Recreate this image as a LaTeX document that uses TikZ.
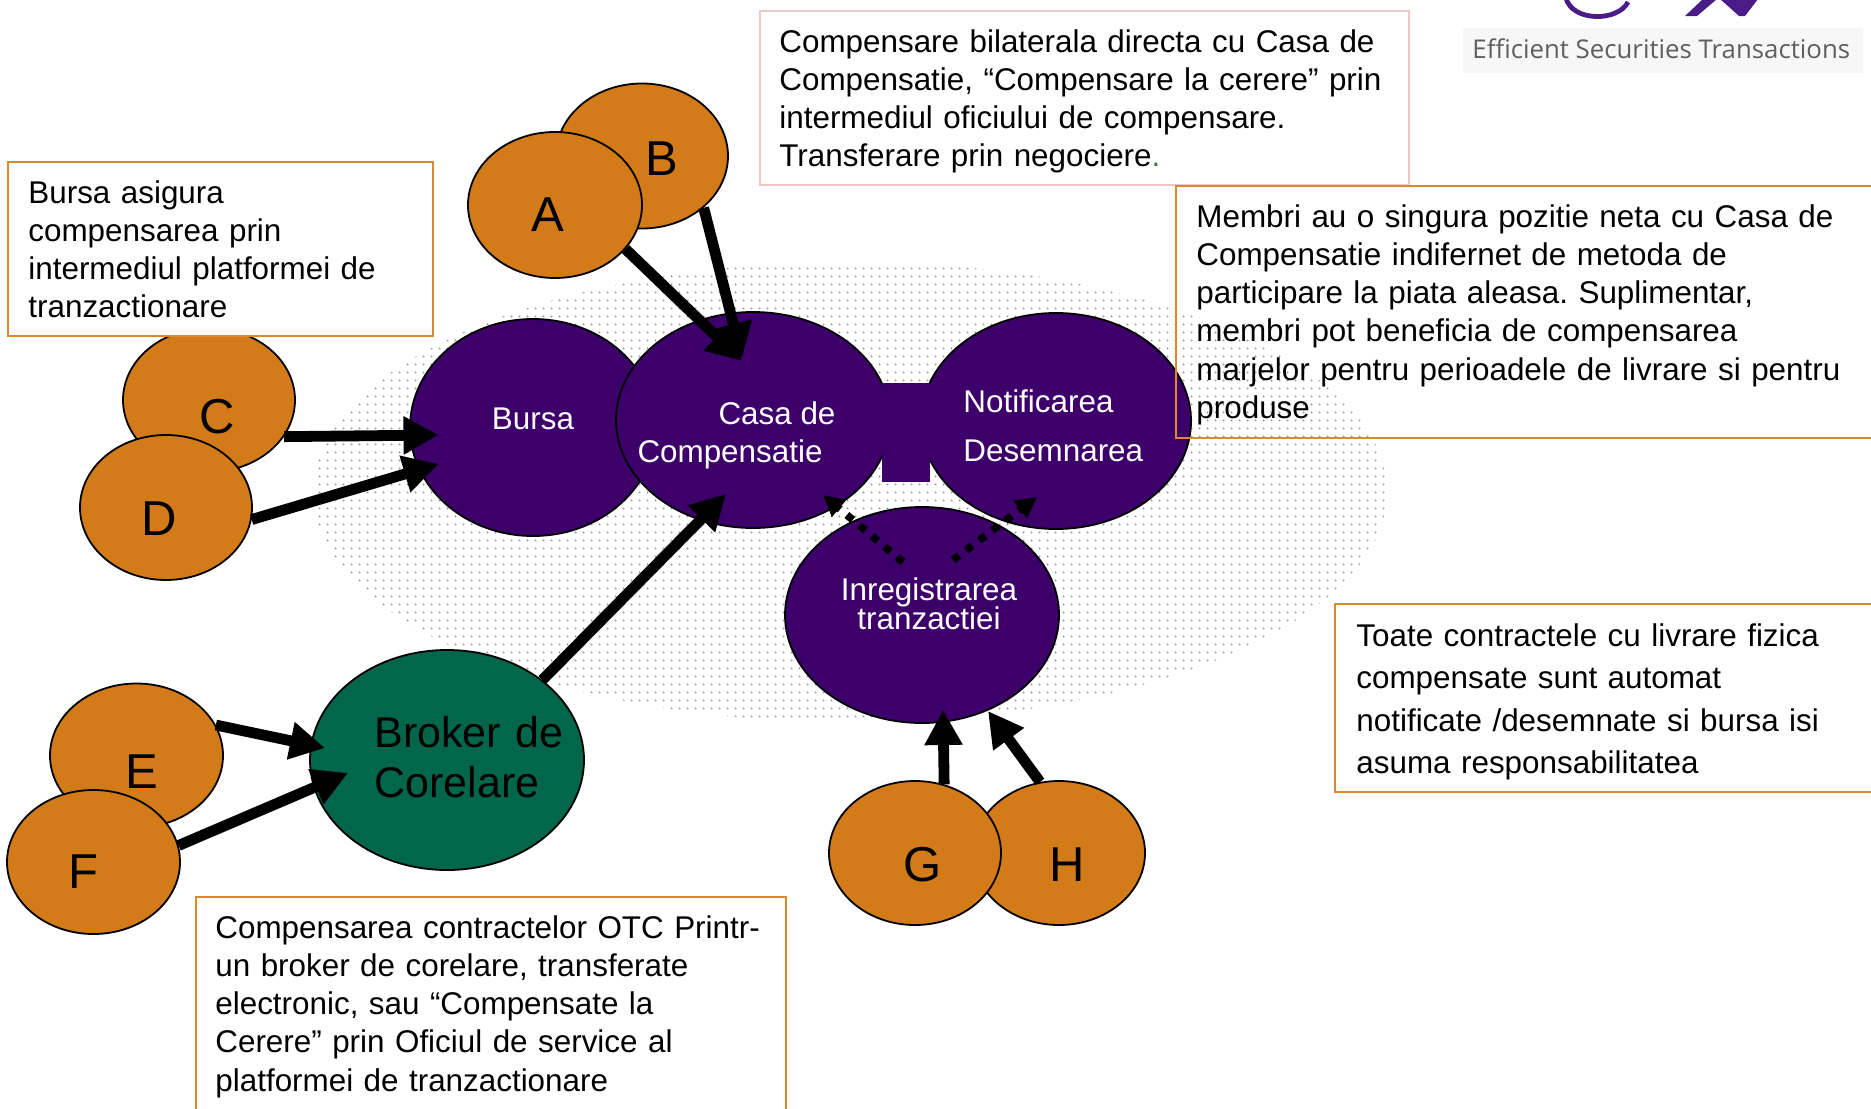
\documentclass[tikz,border=0pt]{standalone}
\usepackage{fontspec}
\setmainfont{Liberation Sans}
\newfontfamily\logofont{Open Sans}
\usetikzlibrary{arrows.meta,patterns.meta,shapes.geometric}
\definecolor{cpurple}{HTML}{3D006B}
\definecolor{corange}{HTML}{D37B18}
\definecolor{cgreen}{HTML}{02664A}
\definecolor{cborder}{HTML}{DA8A2C}
\definecolor{cpink}{HTML}{F2C6C6}
\definecolor{cdot}{HTML}{959595}
\definecolor{clogo}{HTML}{4A1C88}
\definecolor{clogobg}{HTML}{F7F7F7}
\definecolor{clogotext}{HTML}{5F5F5F}
\definecolor{cdotgreen}{HTML}{2E7D4F}
\tikzset{
  orangeball/.style={ellipse, draw=black, line width=0.9pt, fill=corange, inner sep=0pt},
  purpleball/.style={ellipse, draw=black, line width=0.9pt, fill=cpurple, inner sep=0pt},
  letter/.style={font=\fontsize{24.5}{28}\selectfont, text=black, inner sep=0pt},
  ptext/.style={font=\fontsize{15.7}{18}\selectfont, text=white, inner sep=0pt, anchor=base},
  notebox/.style={draw=cborder, line width=1pt, fill=white, inner sep=0pt, anchor=north west},
  notetext/.style={font=\fontsize{15.7}{19.15}\selectfont, anchor=base west, inner sep=0pt, align=left, text width=400pt},
  bigarrow/.style={line width=5.4pt, -{Triangle[length=17.5pt,width=18pt]}},
  dotarrow/.style={line width=3.8pt, dash pattern=on 3.8pt off 4.4pt, -{Triangle[length=10.5pt,width=10.5pt]}},
}
\frenchspacing
\begin{document}
\begin{tikzpicture}[x=0.5pt,y=-0.5pt]
\useasboundingbox (0,0) rectangle (1871,1108);
\clip (0,0) rectangle (1871,1108);
% dotted background
\fill[pattern={Dots[distance=4pt,radius=0.62pt]}, pattern color=cdot] (850,492) ellipse [x radius=268.5pt, y radius=115pt];
% purple nodes
\node[purpleball, minimum width=123pt, minimum height=108.5pt] (Bursa) at (533,427.5) {};
\node[purpleball, minimum width=137pt, minimum height=108pt] (Casa) at (753,420) {};
\node[purpleball, minimum width=135pt, minimum height=108pt] (Notif) at (1056,421) {};
\node[fill=cpurple, minimum width=24pt, minimum height=49.5pt, inner sep=0pt, anchor=north west] (link) at (881.5,383) {};
\node[purpleball, minimum width=137pt, minimum height=108pt] (Inreg) at (922,615) {};
\node[ellipse, draw=black, line width=0.9pt, fill=cgreen, inner sep=0pt, minimum width=137pt, minimum height=110pt] (Broker) at (447,760) {};
% texts in the purple / green nodes
\node[ptext] (tBursa) at (533,429) {Bursa};
\node[ptext] (tCasa1) at (777,424) {Casa de};
\node[ptext] (tCasa2) at (730,462) {Compensatie};
\node[ptext, anchor=base west] (tNot1) at (963,412) {Notificarea};
\node[ptext, anchor=base west] (tNot2) at (963,461) {Desemnarea};
\node[ptext] (tIn1) at (929,600) {Inregistrarea};
\node[ptext] (tIn2) at (929,629) {tranzactiei};
\node[anchor=base west, inner sep=0pt, align=left, text width=200pt, font=\fontsize{21.5}{25}\selectfont] (tBroker) at (374,747) {Broker de\\Corelare};
% orange participant nodes
\node[orangeball, minimum width=86pt, minimum height=72.5pt] (B) at (642,156) {};
\node[orangeball, minimum width=87pt, minimum height=73pt] (A) at (555,205) {};
\node[orangeball, minimum width=86pt, minimum height=72pt] (C) at (209,400) {};
\node[orangeball, minimum width=86pt, minimum height=72.5pt] (D) at (166,507.5) {};
\node[orangeball, minimum width=86.5pt, minimum height=72pt] (E) at (136.5,755.5) {};
\node[orangeball, minimum width=86.5pt, minimum height=72pt] (F) at (93.5,862) {};
\node[orangeball, minimum width=86pt, minimum height=72pt] (H) at (1059,853) {};
\node[orangeball, minimum width=86pt, minimum height=72pt] (G) at (915,853) {};
\node[letter] (lA) at (548,215) {A};
\node[letter] (lB) at (662,159) {B};
\node[letter] (lC) at (217,416.5) {C};
\node[letter] (lD) at (159,518.5) {D};
\node[letter] (lE) at (142,772) {E};
\node[letter] (lF) at (83.5,872) {F};
\node[letter] (lG) at (923,864.5) {G};
\node[letter] (lH) at (1067,864.5) {H};
% arrow tip points
\coordinate (tA) at (742,361);
\coordinate (tB) at (742,358);
\coordinate (tC) at (438.5,435);
\coordinate (tD) at (438.5,464);
\coordinate (tE) at (325,748);
\coordinate (tF) at (348,773);
\coordinate (tBr) at (726,494);
\coordinate (tG) at (943,710);
\coordinate (tH) at (988,711);
\coordinate (d1s) at (903,562);
\coordinate (d1e) at (823,495);
\coordinate (d2s) at (953,560);
\coordinate (d2e) at (1037,497);
% arrows
\draw[bigarrow] (A.-32) -- (tA);
\draw[bigarrow] (B.-40) -- (tB);
\draw[bigarrow] (C.-26) -- (tC);
\draw[bigarrow] (D.-8.5) -- (tD);
\draw[bigarrow] (E.21) -- (tE);
\draw[bigarrow] (F.11) -- (tF);
\draw[bigarrow] (Broker.40) -- (tBr);
\draw[bigarrow] (G.67) -- (tG);
\draw[bigarrow] (H.105) -- (tH);
\draw[dotarrow] (d1s) -- (d1e);
\draw[dotarrow] (d2s) -- (d2e);
% note boxes
\node[notebox, minimum width=212.65pt, minimum height=87.15pt] (box1) at (6.7,160.7) {};
\node[notetext] (n1) at (28,203) {Bursa asigura\\compensarea prin\\intermediul platformei de\\tranzactionare};
\node[notebox, draw=cpink, minimum width=324.5pt, minimum height=87.25pt] (box2) at (759,9.5) {};
\node[notetext] (n2) at (779,52) {Compensare bilaterala directa cu Casa de\\Compensatie, “Compensare la cerere” prin\\intermediul oficiului de compensare.\\Transferare prin negociere{\color{cdotgreen}.}};
\node[notebox, fill=none, minimum width=360pt, minimum height=126pt] (box3) at (1175,185) {};
\node[notetext] (n3) at (1196,227) {Membri au o singura pozitie neta cu Casa de\\Compensatie indifernet de metoda de\\participare la piata aleasa. Suplimentar,\\membri pot beneficia de compensarea\\marjelor pentru perioadele de livrare si pentru\\produse};
\node[notebox, minimum width=300pt, minimum height=94.2pt] (box4) at (1334,602.6) {};
\node[notetext, font=\fontsize{15.7}{21.3}\selectfont] (n4) at (1356,646) {Toate contractele cu livrare fizica\\compensate sunt automat\\notificate /desemnate si bursa isi\\asuma responsabilitatea};
\node[notebox, minimum width=295pt, minimum height=130pt] (box5) at (194.5,896) {};
\node[notetext] (n5) at (215,938) {Compensarea contractelor OTC Printr-\\un broker de corelare, transferate\\electronic, sau “Compensate la\\Cerere” prin Oficiul de service al\\platformei de tranzactionare};
% logo
\node[fill=clogobg, minimum width=200pt, minimum height=22.5pt, inner sep=0pt, anchor=north west] (logobg) at (1463,28) {};
\node[anchor=base west, inner sep=0pt, font=\logofont\fontsize{12.9}{15}\selectfont, text=clogotext] (logotext) at (1472,58) {Efficient Securities Transactions};
\draw[clogo, line width=2.4pt] (1566,-2) .. controls (1572,22) and (1618,22) .. (1628,2);
\fill[clogo] (1685,16) -- (1697,16) -- (1717,-1) -- (1703,-1) -- cycle;
\fill[clogo] (1720,-1) -- (1758,-1) -- (1745,16) -- (1739,16) -- cycle;
\end{tikzpicture}
\end{document}
